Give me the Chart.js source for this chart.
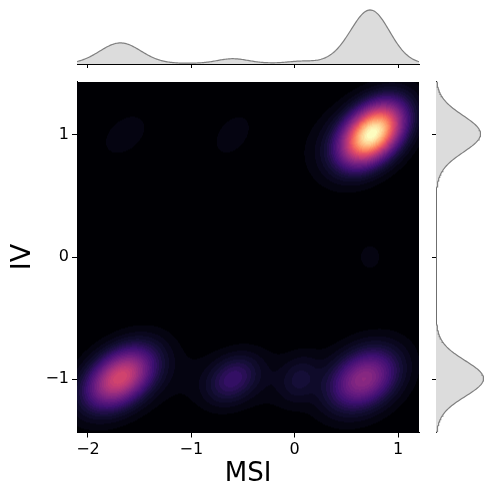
<!DOCTYPE html>
<html>
<head>
<meta charset="utf-8">
<script src="https://cdn.jsdelivr.net/npm/chart.js@4.4.0/dist/chart.umd.min.js"></script>
<style>
body{margin:0;background:#fff;overflow:hidden}
#wrap{position:relative;width:484px;height:487px;overflow:hidden}
canvas{position:absolute}
</style>
</head>
<body>
<div id="wrap">
<canvas id="main" width="420" height="487" style="left:0;top:0"></canvas>
<canvas id="top" width="420" height="82" style="left:0;top:0"></canvas>
<canvas id="side" width="64" height="487" style="left:420px;top:0"></canvas>
</div>
<script>
// density clusters (MSI, IV)
const clusterX =   [0.75, 0.67, -1.69, -0.60, 0.05, -1.64, -0.60, 0.73, -0.45, 0.55, 0.62, -1.62, 0.62]
const clusterY =   [1.01, -1.00, -0.99, -1.00, -1.00, 1.00, 1.00, 0.00, -1.00, 0.97, 0.95, -1.00, -1.00]
const clusterW =   [0.41, 0.15, 0.23, 0.033, 0.012, 0.006, 0.005, 0.0025, 0.03, 0.015, 0.025, 0.015, 0.015]
const clusterSdX = [0.18, 0.20, 0.20, 0.15, 0.12, 0.15, 0.13, 0.10, 0.55, 0.25, 0.30, 0.30, 0.30]
const clusterSdY = [0.15, 0.15, 0.15, 0.12, 0.12, 0.12, 0.12, 0.10, 0.16, 0.16, 0.24, 0.24, 0.24]
const clusterRho = [0.40, 0.30, 0.40, 0.30, 0.20, 0.40, 0.40, 0.00, 0.00, 0.30, 0.30, 0.30, 0.20]

const xTicks = [-2, -1, 0, 1]
const yTicks = [-1, 0, 1]
const xRange = [-2.106, 1.203]
const yRange = [-1.437, 1.437]

const magma = ['#000004','#140e36','#3b0f70','#641a80','#8c2981','#b73779','#de4968','#f7705c','#fe9f6d','#fecf92','#fcfdbf']
const nLevels = 40

Chart.defaults.font.family = 'DejaVu Sans'
Chart.defaults.color = '#000'

function density2d(x, y){
    let d = 0
    for(let i=0;i<clusterX.length;i++){
        let zx=(x-clusterX[i])/clusterSdX[i], zy=(y-clusterY[i])/clusterSdY[i], r=clusterRho[i]
        let q=(zx*zx-2*r*zx*zy+zy*zy)/(1-r*r)
        d+=clusterW[i]/(2*Math.PI*clusterSdX[i]*clusterSdY[i]*Math.sqrt(1-r*r))*Math.exp(-q/2)
    }
    return d
}
function marginal(v, centers, sds){
    let d = 0
    for(let i=0;i<centers.length;i++){
        let z=(v-centers[i])/sds[i]
        d+=clusterW[i]/(sds[i]*Math.sqrt(2*Math.PI))*Math.exp(-z*z/2)
    }
    return d
}
function hexRgb(h){ return [parseInt(h.substr(1,2),16),parseInt(h.substr(3,2),16),parseInt(h.substr(5,2),16)] }
const magmaRgb = magma.map(hexRgb)
function magmaColor(t){
    let p=t*(magmaRgb.length-1), i=Math.min(magmaRgb.length-2,Math.floor(p)), f=p-i
    return magmaRgb[i].map((c,k)=>Math.round(c+(magmaRgb[i+1][k]-c)*f))
}
const minus = v => String(v).replace('-', '\u2212')

const heatmap = {
  id: 'heatmap',
  beforeDatasetsDraw(chart){
    const {ctx, chartArea: a, scales: {x, y}} = chart
    const w=Math.round(a.right-a.left), h=Math.round(a.bottom-a.top)
    const xs=[], ys=[]
    for(let i=0;i<w;i++) xs.push(x.getValueForPixel(a.left+i+0.5))
    for(let j=0;j<h;j++) ys.push(y.getValueForPixel(a.top+j+0.5))
    const grid=new Float32Array(w*h)
    let dmax=0
    for(let j=0;j<h;j++) for(let i=0;i<w;i++){
        let d=density2d(xs[i],ys[j]); grid[j*w+i]=d; if(d>dmax) dmax=d
    }
    const off=document.createElement('canvas'); off.width=w; off.height=h
    const octx=off.getContext('2d'), img=octx.createImageData(w,h)
    for(let k=0;k<w*h;k++){
        let t=Math.pow(grid[k]/dmax,0.8)
        let q=Math.min(nLevels-1,Math.floor(t*nLevels))
        let c=magmaColor(q/(nLevels-1))
        img.data[k*4]=c[0]; img.data[k*4+1]=c[1]; img.data[k*4+2]=c[2]; img.data[k*4+3]=255
    }
    octx.putImageData(img,0,0)
    ctx.drawImage(off,a.left,a.top)
  }
}

new Chart('main', {
  type: 'scatter',
  data: { datasets: [{ data: clusterX.map((v,i)=>({x:v,y:clusterY[i]})), pointRadius: 0 }] },
  options: {
    responsive: false, animation: false,
    layout: { padding: { top: 81.5, right: 1, left: 0, bottom: 0 } },
    plugins: { legend: { display: false }, tooltip: { enabled: false } },
    scales: {
      x: { type: 'linear', min: xRange[0], max: xRange[1],
           afterBuildTicks: s => { s.ticks = xTicks.map(v=>({value:v})) },
           afterFit: s => { s.height = 54.5 },
           grid: { drawOnChartArea: false, tickLength: 5, color: '#000' },
           border: { color: '#000' },
           ticks: { font: { size: 16 }, padding: 3, maxRotation: 0, callback: minus },
           title: { display: true, text: 'MSI', font: { size: 26, lineHeight: 1 }, padding: 0 } },
      y: { type: 'linear', min: yRange[0], max: yRange[1],
           afterBuildTicks: s => { s.ticks = yTicks.map(v=>({value:v})) },
           afterFit: s => { s.width = 77 },
           grid: { drawOnChartArea: false, tickLength: 5, color: '#000' },
           border: { color: '#000' },
           ticks: { font: { size: 16 }, padding: 3, callback: minus },
           title: { display: true, text: 'IV', font: { size: 27, lineHeight: 1.2 }, padding: { top: 7 } } }
    }
  },
  plugins: [heatmap]
})

// marginal curves from the same clusters
const xGrid=[], yGrid=[]
for(let i=0;i<=300;i++){ xGrid.push(xRange[0]+(xRange[1]-xRange[0])*i/300); yGrid.push(yRange[0]+(yRange[1]-yRange[0])*i/300) }
const xMarg = xGrid.map(v=>marginal(v, clusterX, clusterSdX))
const yMarg = yGrid.map(v=>marginal(v, clusterY, clusterSdY))

new Chart('top', {
  type: 'line',
  data: { datasets: [{ data: xGrid.map((v,i)=>({x:v,y:xMarg[i]})), pointRadius: 0, borderColor: '#808080', borderWidth: 1.2, backgroundColor: '#dcdcdc', fill: 'origin' }] },
  options: {
    responsive: false, animation: false,
    layout: { padding: { top: 7, right: 1, left: 77, bottom: 0 } },
    plugins: { legend: { display: false }, tooltip: { enabled: false } },
    scales: {
      x: { type: 'linear', min: xRange[0], max: xRange[1],
           afterBuildTicks: s => { s.ticks = xTicks.map(v=>({value:v})) },
           afterFit: s => { s.height = 18 },
           grid: { drawOnChartArea: false, tickLength: 4, color: '#000' },
           border: { color: '#000' },
           ticks: { display: false } },
      y: { display: false, min: 0, max: Math.max(...xMarg)*1.055 }
    }
  }
})

new Chart('side', {
  type: 'line',
  data: { datasets: [{ data: yGrid.map((v,i)=>({x:yMarg[i],y:v})), pointRadius: 0, borderColor: '#808080', borderWidth: 1.2, backgroundColor: '#dcdcdc', fill: 'origin' }] },
  options: {
    indexAxis: 'y',
    responsive: false, animation: false,
    layout: { padding: { top: 81.5, right: 0, left: 0, bottom: 54.5 } },
    plugins: { legend: { display: false }, tooltip: { enabled: false } },
    scales: {
      y: { type: 'linear', position: 'left', min: yRange[0], max: yRange[1],
           afterBuildTicks: s => { s.ticks = yTicks.map(v=>({value:v})) },
           afterFit: s => { s.width = 16 },
           grid: { drawOnChartArea: false, tickLength: 4, color: '#000' },
           border: { color: '#000' },
           ticks: { display: false } },
      x: { type: 'linear', display: false, min: 0, max: Math.max(...yMarg)*1.01 }
    }
  }
})
</script>
</body>
</html>
